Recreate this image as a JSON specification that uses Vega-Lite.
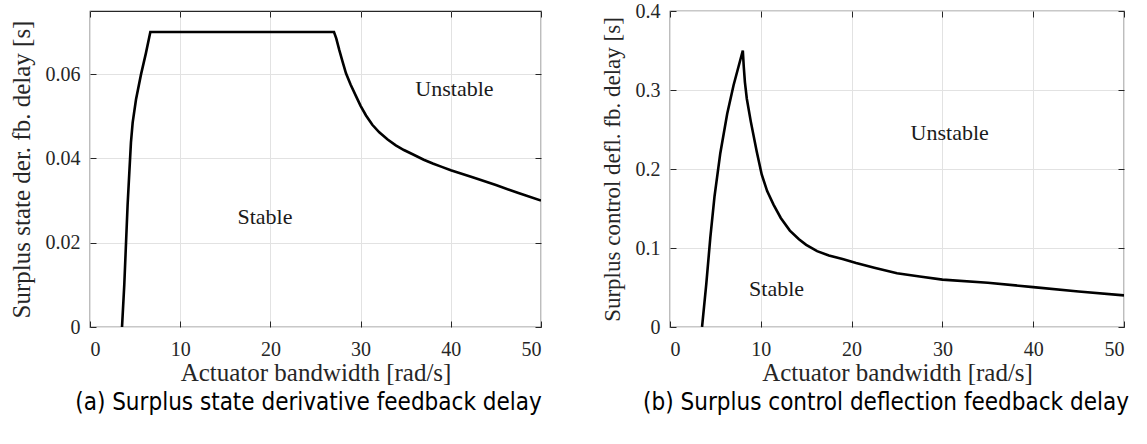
{
  "$schema": "https://vega.github.io/schema/vega-lite/v6.json",
  "background": "white",
  "padding": {"left": 8, "top": 0, "right": 0, "bottom": 0},
  "bounds": "flush",
  "spacing": 129,
  "datasets": {
    "curveA": [
      {"w": 3.55, "tau": 0}, {"w": 3.8, "tau": 0.01}, {"w": 4.17, "tau": 0.029}, {"w": 4.36, "tau": 0.0367},
      {"w": 4.54, "tau": 0.0438}, {"w": 4.73, "tau": 0.0485}, {"w": 5.1, "tau": 0.054}, {"w": 5.65, "tau": 0.0599},
      {"w": 6.2, "tau": 0.065}, {"w": 6.69, "tau": 0.07}, {"w": 27.05, "tau": 0.07}, {"w": 27.3, "tau": 0.0685},
      {"w": 27.64, "tau": 0.0657}, {"w": 28.0, "tau": 0.063}, {"w": 28.38, "tau": 0.0602}, {"w": 28.9, "tau": 0.0575},
      {"w": 29.49, "tau": 0.0548}, {"w": 30.0, "tau": 0.0525}, {"w": 30.6, "tau": 0.0502}, {"w": 31.3, "tau": 0.048},
      {"w": 32.07, "tau": 0.0462}, {"w": 33.0, "tau": 0.0445}, {"w": 33.9, "tau": 0.0431}, {"w": 34.8, "tau": 0.042},
      {"w": 35.77, "tau": 0.041}, {"w": 37.0, "tau": 0.0397}, {"w": 38.0, "tau": 0.0388}, {"w": 39.0, "tau": 0.038},
      {"w": 40.0, "tau": 0.0372}, {"w": 42.5, "tau": 0.0355}, {"w": 45.0, "tau": 0.0337}, {"w": 47.5, "tau": 0.0318},
      {"w": 50.0, "tau": 0.03}
    ],
    "curveB": [
      {"w": 3.53, "tau": 0}, {"w": 4.0, "tau": 0.055}, {"w": 4.44, "tau": 0.113}, {"w": 4.9, "tau": 0.165},
      {"w": 5.54, "tau": 0.22}, {"w": 6.3, "tau": 0.27}, {"w": 7.0, "tau": 0.306}, {"w": 8.02, "tau": 0.35},
      {"w": 8.12, "tau": 0.33}, {"w": 8.25, "tau": 0.31}, {"w": 8.46, "tau": 0.289}, {"w": 8.9, "tau": 0.26},
      {"w": 9.55, "tau": 0.222}, {"w": 10.1, "tau": 0.193}, {"w": 10.7, "tau": 0.172}, {"w": 11.4, "tau": 0.155},
      {"w": 12.2, "tau": 0.138}, {"w": 13.2, "tau": 0.122}, {"w": 14.2, "tau": 0.111}, {"w": 15.0, "tau": 0.104},
      {"w": 16.2, "tau": 0.096}, {"w": 17.5, "tau": 0.0905}, {"w": 19.0, "tau": 0.086}, {"w": 20.5, "tau": 0.081},
      {"w": 22.5, "tau": 0.075}, {"w": 25.0, "tau": 0.068}, {"w": 27.5, "tau": 0.064}, {"w": 30.0, "tau": 0.06},
      {"w": 35.0, "tau": 0.056}, {"w": 40.0, "tau": 0.0505}, {"w": 45.0, "tau": 0.045}, {"w": 50.0, "tau": 0.04}
    ],
    "textA": [
      {"w": 40.4, "tau": 0.0565, "label": "Unstable"},
      {"w": 19.4, "tau": 0.0262, "label": "Stable"}
    ],
    "textB": [
      {"w": 30.8, "tau": 0.245, "label": "Unstable"},
      {"w": 11.74, "tau": 0.0475, "label": "Stable"}
    ]
  },
  "config": {
    "view": {"stroke": "#262626", "strokeWidth": 1.2},
    "axis": {
      "labelFont": "Liberation Serif",
      "titleFont": "Liberation Serif",
      "labelFontSize": 20,
      "titleFontSize": 25,
      "titleFontWeight": "normal",
      "labelColor": "#262626",
      "titleColor": "#262626",
      "tickColor": "#262626",
      "tickSize": -6,
      "tickWidth": 1,
      "domain": false,
      "gridColor": "#e2e2e2",
      "gridWidth": 1
    },
    "axisX": {"labelPadding": 18, "titlePadding": 1},
    "axisY": {"labelPadding": 16, "titlePadding": 11},
    "title": {
      "font": "DejaVu Sans Condensed, Lato, sans-serif",
      "fontSize": 24,
      "fontWeight": "normal",
      "color": "black",
      "orient": "bottom",
      "anchor": "middle",
      "offset": 6
    }
  },
  "hconcat": [
    {
      "width": 451,
      "height": 316,
      "title": {"text": "(a) Surplus state derivative feedback delay", "dx": -7},
      "layer": [
        {
          "data": {"name": "curveA"},
          "mark": {"type": "line", "color": "black", "strokeWidth": 2.6, "clip": true},
          "encoding": {
            "x": {"field": "w", "type": "quantitative", "scale": {"domain": [0, 50]},
                  "axis": {"title": "Actuator bandwidth [rad/s]", "values": [0, 10, 20, 30, 40, 50]}},
            "y": {"field": "tau", "type": "quantitative", "scale": {"domain": [0, 0.075]},
                  "axis": {"title": "Surplus state der. fb. delay [s]", "values": [0, 0.02, 0.04, 0.06], "format": "~g"}}
          }
        },
        {
          "data": {"name": "textA"},
          "mark": {"type": "text", "font": "Liberation Serif", "fontSize": 22, "color": "#1a1a1a"},
          "encoding": {
            "x": {"field": "w", "type": "quantitative", "scale": {"domain": [0, 50]},
                  "axis": {"orient": "top", "labels": false, "title": null, "grid": false, "values": [0, 10, 20, 30, 40, 50]}},
            "y": {"field": "tau", "type": "quantitative", "scale": {"domain": [0, 0.075]},
                  "axis": {"orient": "right", "labels": false, "title": null, "grid": false, "values": [0, 0.02, 0.04, 0.06]}},
            "text": {"field": "label"}
          }
        }
      ],
      "resolve": {"axis": {"x": "independent", "y": "independent"}}
    },
    {
      "width": 454,
      "height": 316,
      "title": {"text": "(b) Surplus control deflection feedback delay", "dx": -11},
      "layer": [
        {
          "data": {"name": "curveB"},
          "mark": {"type": "line", "color": "black", "strokeWidth": 2.6, "clip": true},
          "encoding": {
            "x": {"field": "w", "type": "quantitative", "scale": {"domain": [0, 50]},
                  "axis": {"title": "Actuator bandwidth [rad/s]", "values": [0, 10, 20, 30, 40, 50]}},
            "y": {"field": "tau", "type": "quantitative", "scale": {"domain": [0, 0.4]},
                  "axis": {"title": "Surplus control defl. fb. delay [s]", "titleFontSize": 23, "values": [0, 0.1, 0.2, 0.3, 0.4], "format": "~g"}}
          }
        },
        {
          "data": {"name": "textB"},
          "mark": {"type": "text", "font": "Liberation Serif", "fontSize": 22, "color": "#1a1a1a"},
          "encoding": {
            "x": {"field": "w", "type": "quantitative", "scale": {"domain": [0, 50]},
                  "axis": {"orient": "top", "labels": false, "title": null, "grid": false, "values": [0, 10, 20, 30, 40, 50]}},
            "y": {"field": "tau", "type": "quantitative", "scale": {"domain": [0, 0.4]},
                  "axis": {"orient": "right", "labels": false, "title": null, "grid": false, "values": [0, 0.1, 0.2, 0.3, 0.4]}},
            "text": {"field": "label"}
          }
        }
      ],
      "resolve": {"axis": {"x": "independent", "y": "independent"}}
    }
  ]
}
